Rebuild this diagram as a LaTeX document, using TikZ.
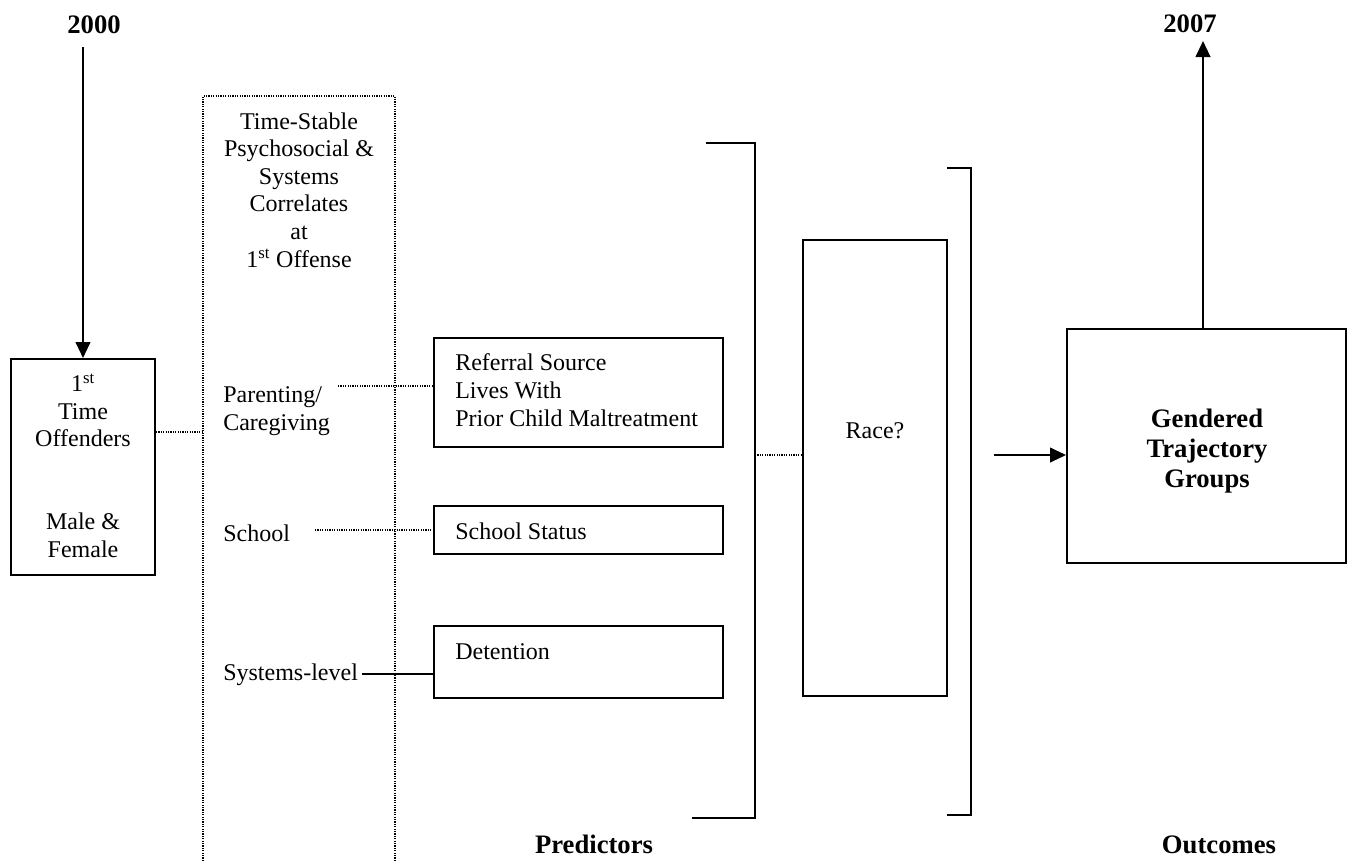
\documentclass[tikz,border=0pt]{standalone}
\usepackage{fontspec}
\setmainfont{Liberation Serif}
\usetikzlibrary{arrows.meta,fit}
\begin{document}
\begin{tikzpicture}[x=0.75pt,y=-0.75pt,
  txt/.style={font=\fontsize{18}{20.7}\selectfont, inner sep=0pt, anchor=base},
  btxt/.style={font=\fontsize{20}{22.5}\selectfont\bfseries, inner sep=0pt, anchor=base},
  sbox/.style={draw, line width=1.5pt, inner sep=0pt},
  dotline/.style={line width=1pt, dash pattern=on 0.9pt off 0.9pt},
  solidline/.style={line width=1.5pt},
  arr/.style={line width=1.5pt, -{Triangle[length=12pt,width=11pt]}},
]
\useasboundingbox (0,0) rectangle (1348,861);

% year labels
\node[btxt] (y2000) at (94,33) {2000};
\node[btxt] (y2007) at (1190,32) {2007};

% boxes
\node[sbox, fit={(11,359) (155,575)}] (off) {};
\node[sbox, fit={(434,338) (723,447)}] (ref) {};
\node[sbox, fit={(434,506) (723,554)}] (ss) {};
\node[sbox, fit={(434,626) (723,698)}] (det) {};
\node[sbox, fit={(803,240) (947,696)}] (race) {};
\node[sbox, fit={(1067,329) (1346,563)}] (gend) {};

% texts in boxes (multi-line nodes: base = last line's baseline)
\node[txt, align=center] (offtxt) at (83,557)
  {1\textsuperscript{st}\\Time\\Offenders\\~\\~\\Male \&\\Female};
\node[txt, anchor=base west, align=left] (reftxt) at (455,426)
  {Referral Source\\Lives With\\Prior Child Maltreatment};
\node[txt, anchor=base west] (sstxt) at (455,539) {School Status};
\node[txt, anchor=base west] (dettxt) at (455,659) {Detention};
\node[txt] (racetxt) at (875,438) {Race?};
\node[btxt, align=center] (gendtxt) at (1207,487) {Gendered\\Trajectory\\Groups};

% dotted column
\coordinate (dbl) at (203,861);
\coordinate (dtl) at (203,96);
\coordinate (dtr) at (395,96);
\coordinate (dbr) at (395,861);
\draw[dotline] (dbl) -- (dtl) -- (dtr) -- (dbr);
\node[txt, align=center] (coltitle) at (299,267)
  {Time-Stable\\Psychosocial \&\\Systems\\Correlates\\at\\1\textsuperscript{st} Offense};
\node[txt, anchor=base west, align=left] (par) at (223,430) {Parenting/\\Caregiving};
\node[txt, anchor=base west] (sch) at (223,541) {School};
\node[txt, anchor=base west] (sys) at (223,680) {Systems-level};

% connectors
\coordinate (oc) at (203,432);
\draw[dotline] (oc -| off.east) -- (oc);
\coordinate (pc) at (338,386);
\draw[dotline] (pc) -- (pc -| ref.west);
\coordinate (sc) at (315,530);
\draw[dotline] (sc) -- (sc -| ss.west);
\coordinate (syc) at (362,674);
\draw[line width=1pt] (syc) -- (syc -| det.west);

% arrows
\coordinate (a0) at (83,47);
\draw[arr] (a0) -- (off.north);
\coordinate (a7) at (1203,41);
\draw[arr] (a7 |- gend.north) -- (a7);
\coordinate (ga) at (994,455);
\draw[arr] (ga) -- (ga -| gend.west);

% brackets
\coordinate (b1a) at (706,143);
\coordinate (b1b) at (755,143);
\coordinate (b1c) at (755,818);
\coordinate (b1d) at (692,818);
\draw[solidline] (b1a) -- (b1b) -- (b1c) -- (b1d);
\coordinate (b2a) at (947,168);
\coordinate (b2b) at (971,168);
\coordinate (b2c) at (971,815);
\coordinate (b2d) at (947,815);
\draw[solidline] (b2a) -- (b2b) -- (b2c) -- (b2d);
\coordinate (rl) at (755,455);
\draw[dotline] (rl) -- (rl -| race.west);

% bottom labels
\node[btxt] (pred) at (594,853) {Predictors};
\node[btxt] (outc) at (1219,853) {Outcomes};
\end{tikzpicture}
\end{document}
